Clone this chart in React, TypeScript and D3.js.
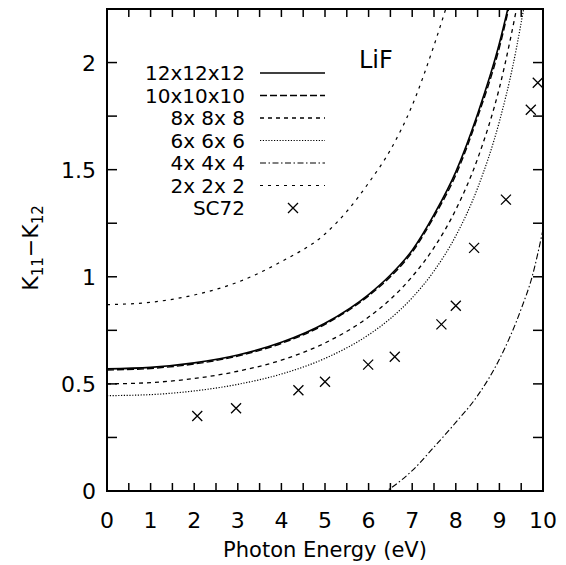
import React from "react";
import * as d3 from "d3";

// ---- data ----
const e12 = [0, 1, 2, 3, 4, 5, 6, 6.5, 7, 7.5, 8, 8.5, 9, 9.25];
const v12 = [0.57, 0.577, 0.598, 0.635, 0.694, 0.783, 0.917, 1.008, 1.124, 1.29, 1.49, 1.76, 2.09, 2.3];

const e10 = [0, 1, 2, 3, 4, 5, 6, 6.5, 7, 7.5, 8, 8.5, 9, 9.3];
const v10 = [0.565, 0.572, 0.593, 0.63, 0.689, 0.778, 0.911, 1.0, 1.115, 1.28, 1.475, 1.745, 2.07, 2.33];

const e8 = [0, 1, 2, 3, 4, 5, 6, 6.5, 7, 7.5, 8, 8.5, 9, 9.5];
const v8 = [0.5, 0.506, 0.525, 0.559, 0.611, 0.691, 0.812, 0.895, 1.001, 1.136, 1.313, 1.551, 1.882, 2.361];

const e6 = [0, 1, 2, 3, 4, 5, 6, 6.5, 7, 7.5, 8, 8.5, 9, 9.3, 9.65];
const v6 = [0.445, 0.45, 0.467, 0.498, 0.546, 0.619, 0.729, 0.805, 0.902, 1.027, 1.191, 1.414, 1.725, 1.976, 2.36];

const e4 = [6.3, 6.5, 7, 7.5, 8, 8.5, 9, 9.5, 9.75, 10];
const v4 = [-0.015, 0.012, 0.095, 0.205, 0.32, 0.445, 0.615, 0.85, 1.0, 1.22];

const e2 = [0, 1, 2, 3, 4, 5, 5.5, 6, 6.5, 7, 7.5, 7.8, 8];
const v2 = [0.87, 0.881, 0.915, 0.975, 1.071, 1.2, 1.305, 1.438, 1.592, 1.8, 2.08, 2.27, 2.4];

const scE = [2.07, 2.96, 4.39, 5.0, 5.99, 6.6, 7.67, 8.0, 8.42, 9.15, 9.72, 9.88];
const scV = [0.35, 0.386, 0.47, 0.51, 0.59, 0.627, 0.778, 0.865, 1.135, 1.36, 1.78, 1.906];

const seriesLabels = ["12x12x12", "10x10x10", "8x 8x 8", "6x 6x 6", "4x 4x 4", "2x 2x 2"];
const pointsLabel = "SC72";
const xTickLabels = [0, 1, 2, 3, 4, 5, 6, 7, 8, 9, 10];
const yTickLabels = [0, 0.5, 1, 1.5, 2];

// ---- layout ----
const W = 566, H = 565;
const L = 107, R = 543, T = 9, B = 491;
const FONT = "'DejaVu Sans', 'Liberation Sans', Arial, sans-serif";

export default function App() {
  const x = d3.scaleLinear().domain([0, 10]).range([L, R]);
  const y = d3.scaleLinear().domain([0, 2.25]).range([B, T]);
  const line = d3
    .line<[number, number]>()
    .x((d) => x(d[0]))
    .y((d) => y(d[1]))
    .curve(d3.curveMonotoneX);
  const zip = (a: number[], b: number[]) => a.map((v, i) => [v, b[i]] as [number, number]);

  const styles = [
    { e: e12, v: v12, dash: "none", w: 1.6 },
    { e: e10, v: v10, dash: "7,3", w: 1.4 },
    { e: e8, v: v8, dash: "4,4", w: 1.3 },
    { e: e6, v: v6, dash: "1.2,1.6", w: 1.2 },
    { e: e4, v: v4, dash: "6,2.5,1.5,2.5", w: 1.1 },
    { e: e2, v: v2, dash: "3,5", w: 1.2 },
  ];

  const xMinor = d3.range(0, 10.001, 0.5);
  const yMinor = d3.range(0, 2.2501, 0.25);
  const tl = 8;

  const legendY0 = 73;
  const legendDy = 22.5;
  const cross = (cx: number, cy: number, s: number, k: number) => (
    <path
      key={k}
      d={`M${cx - s},${cy - s}L${cx + s},${cy + s}M${cx - s},${cy + s}L${cx + s},${cy - s}`}
      stroke="#000"
      strokeWidth={1.3}
      fill="none"
    />
  );

  return (
    <svg width={W} height={H} style={{ display: "block", position: "absolute", left: 0, top: 0, background: "#fff" }}>
      <rect x={0} y={0} width={W} height={H} fill="#fff" />
      <defs>
        <clipPath id="plot">
          <rect x={L} y={T} width={R - L} height={B - T} />
        </clipPath>
      </defs>
      <g clipPath="url(#plot)">
        {styles.map((s, i) => (
          <path
            key={i}
            d={line(zip(s.e, s.v)) || ""}
            fill="none"
            stroke="#000"
            strokeWidth={s.w}
            strokeDasharray={s.dash}
          />
        ))}
        {scE.map((e, i) => cross(x(e), y(scV[i]), 5, i))}
      </g>
      {/* ticks */}
      <g stroke="#000" strokeWidth={1.5}>
        {xMinor.map((t, i) => (
          <g key={"x" + i}>
            <line x1={x(t)} x2={x(t)} y1={B} y2={B - tl} />
            <line x1={x(t)} x2={x(t)} y1={T} y2={T + tl} />
          </g>
        ))}
        {yMinor.map((t, i) => (
          <g key={"y" + i}>
            <line x1={L} x2={L + tl + 2} y1={y(t)} y2={y(t)} />
            <line x1={R} x2={R - tl - 2} y1={y(t)} y2={y(t)} />
          </g>
        ))}
      </g>
      <rect x={L} y={T} width={R - L} height={B - T} fill="none" stroke="#000" strokeWidth={2} />
      {/* tick labels */}
      <g fontFamily={FONT} fontSize={22} fill="#000">
        {xTickLabels.map((t) => (
          <text key={t} x={x(t)} y={528} textAnchor="middle">
            {t}
          </text>
        ))}
        {yTickLabels.map((t) => (
          <text key={t} x={96} y={y(t) + 8} textAnchor="end">
            {t}
          </text>
        ))}
      </g>
      <text x={(L + R) / 2} y={557} textAnchor="middle" fontFamily={FONT} fontSize={21}>
        Photon Energy (eV)
      </text>
      <text transform="translate(38,248) rotate(-90)" textAnchor="middle" fontFamily={FONT} fontSize={22}>
        K<tspan fontSize={15} dy={5}>11</tspan>
        <tspan dy={-5}>−K</tspan>
        <tspan fontSize={15} dy={5}>12</tspan>
      </text>
      <text x={359} y={68} fontFamily={FONT} fontSize={24}>
        LiF
      </text>
      {/* legend */}
      <g fontFamily={FONT} fontSize={20}>
        {seriesLabels.map((lab, i) => (
          <g key={lab}>
            <text x={245} y={legendY0 + i * legendDy + 7} textAnchor="end">
              {lab}
            </text>
            <line
              x1={260}
              x2={325}
              y1={legendY0 + i * legendDy}
              y2={legendY0 + i * legendDy}
              stroke="#000"
              strokeWidth={styles[i].w}
              strokeDasharray={styles[i].dash}
            />
          </g>
        ))}
        <text x={245} y={legendY0 + 6 * legendDy + 7} textAnchor="end">
          {pointsLabel}
        </text>
        {cross(293, legendY0 + 6 * legendDy, 5, 99)}
      </g>
    </svg>
  );
}
